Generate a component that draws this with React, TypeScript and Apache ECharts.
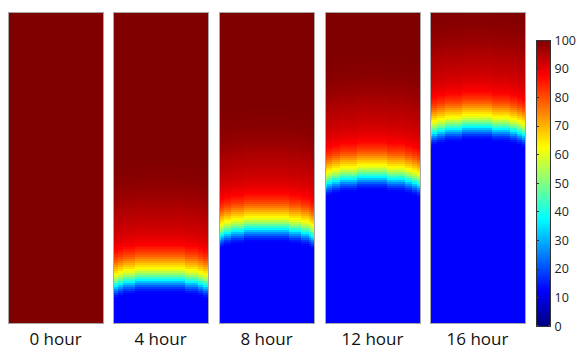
import React, { useEffect, useRef } from "react";
import * as echarts from "echarts";

// Time labels of the five snapshots
const hours = ["0 hour", "4 hour", "8 hour", "12 hour", "16 hour"];
// Height of the front (crest, cyan level) as a fraction of the column height; null = no front yet
const frontLevel: (number | null)[] = [null, 0.14, 0.305, 0.47, 0.63];
// How far the front drops (in grid rows) across the column width, left to right
const frontDrop = [
  3.6, 2.9, 2.4, 2.0, 1.7, 1.45, 1.2, 1.0, 0.85, 0.7, 0.57, 0.45, 0.35, 0.26, 0.18, 0.12, 0.07, 0.03, 0,
  0, 0.03, 0.07, 0.12, 0.18, 0.26, 0.35, 0.45, 0.57, 0.7, 0.85, 1.0, 1.2, 1.45, 1.7, 2.0, 2.4, 2.9, 3.6,
];
// Value profile across the front, one entry per grid row, starting 7 rows below the front
const profileStart = -7;
const profile = [
  12.5, 13, 15, 18, 22, 26.5, 31.5,
  37,
  42, 47, 52, 56, 60, 63, 65.5, 68, 70.5, 73,
  75.5, 78, 80, 82, 83.5, 85, 86.3, 87.5, 88.3, 89,
  89.6, 90.2, 90.7, 91.2, 91.6, 92, 92.4, 92.8, 93.1, 93.5,
  93.8, 94.1, 94.4, 94.7, 95, 95.3, 95.6, 95.9, 96.2, 96.5,
  96.8, 97.1, 97.4, 97.6, 97.8, 98, 98.2, 98.4, 98.6, 98.8,
  99, 99.1, 99.2, 99.3, 99.4, 99.5, 99.6, 99.7, 99.8, 99.9,
];
const colorMin = 0;
const colorMax = 100;
const colorStep = 10;
const jet = ["#000080", "#0000FF", "#0080FF", "#00FFFF", "#80FF80", "#FFFF00", "#FF8000", "#FF0000", "#800000"];

const ROWS = 156;
const COLS = frontDrop.length;

// layout
const panelLeft = [8, 113, 219, 325, 430];
const panelTop = 12;
const panelW = 95;
const panelH = 312;

function cellValue(level: number | null, c: number, r: number): number {
  if (level === null) return colorMax;
  const off = Math.round(r + 0.5 - level * ROWS + frontDrop[c]) - profileStart;
  if (off < 0) return profile[0];
  if (off >= profile.length) return colorMax;
  return profile[off];
}

export default function App() {
  const ref = useRef<HTMLDivElement>(null);
  useEffect(() => {
    if (!ref.current) return;
    const chart = echarts.init(ref.current, undefined, { renderer: "svg" });
    const colIdx = Array.from({ length: COLS }, (_, i) => String(i));
    const rowIdx = Array.from({ length: ROWS }, (_, i) => String(i));
    const grids: any[] = hours.map((_, i) => ({
      left: panelLeft[i],
      top: panelTop,
      width: panelW,
      height: panelH,
      show: true,
      borderColor: "#a8a8a8",
      borderWidth: 1,
      backgroundColor: "transparent",
      z: 5,
    }));
    grids.push({
      left: 536,
      top: 40,
      width: 15,
      height: 286,
      show: true,
      borderColor: "#333",
      borderWidth: 1,
      backgroundColor: "transparent",
      z: 10,
    });
    const xAxes: any[] = hours.map((h, i) => ({
      gridIndex: i,
      type: "category",
      data: colIdx,
      show: true,
      axisLine: { show: false },
      axisTick: { show: false },
      axisLabel: { show: false },
      splitLine: { show: false },
      name: h,
      nameLocation: "middle",
      nameGap: 7,
      nameTextStyle: { fontSize: 17, fontFamily: "Open Sans", color: "#111" },
    }));
    xAxes.push({ gridIndex: 5, type: "value", show: false });
    const yAxes: any[] = hours.map((_, i) => ({
      gridIndex: i,
      type: "category",
      data: rowIdx,
      show: false,
    }));
    yAxes.push({
      gridIndex: 5,
      type: "value",
      min: colorMin,
      max: colorMax,
      interval: colorStep,
      position: "right",
      z: 10,
      axisLine: { show: false },
      axisTick: { show: true, length: 3, lineStyle: { color: "#333" } },
      axisLabel: { margin: 4, fontSize: 12.5, color: "#222", fontFamily: "Open Sans" },
      splitLine: { show: false },
    });
    const series = hours.map((_, i) => {
      const data: number[][] = [];
      for (let c = 0; c < COLS; c++) {
        for (let r = 0; r < ROWS; r++) {
          data.push([c, r, cellValue(frontLevel[i], c, r)]);
        }
      }
      return {
        type: "heatmap",
        xAxisIndex: i,
        yAxisIndex: i,
        data,
        progressive: 0,
        itemStyle: { borderWidth: 0 },
        emphasis: { disabled: true },
      };
    });
    chart.setOption({
      animation: false,
      grid: grids,
      xAxis: xAxes,
      yAxis: yAxes,
      visualMap: {
        type: "continuous",
        min: colorMin,
        max: colorMax,
        seriesIndex: [0, 1, 2, 3, 4],
        inRange: { color: jet },
        left: 536,
        top: 40,
        itemWidth: 15,
        itemHeight: 286,
        calculable: false,
        padding: 0,
        orient: "vertical",
        hoverLink: false,
        z: 4,
      },
      series,
    } as any);
    return () => chart.dispose();
  }, []);
  return (
    <>
      <style>{".hm svg path { shape-rendering: crispEdges; }"}</style>
      <div
        ref={ref}
        className="hm"
        style={{ position: "fixed", left: 0, top: 0, width: 579, height: 352, background: "#fff" }}
      />
    </>
  );
}
